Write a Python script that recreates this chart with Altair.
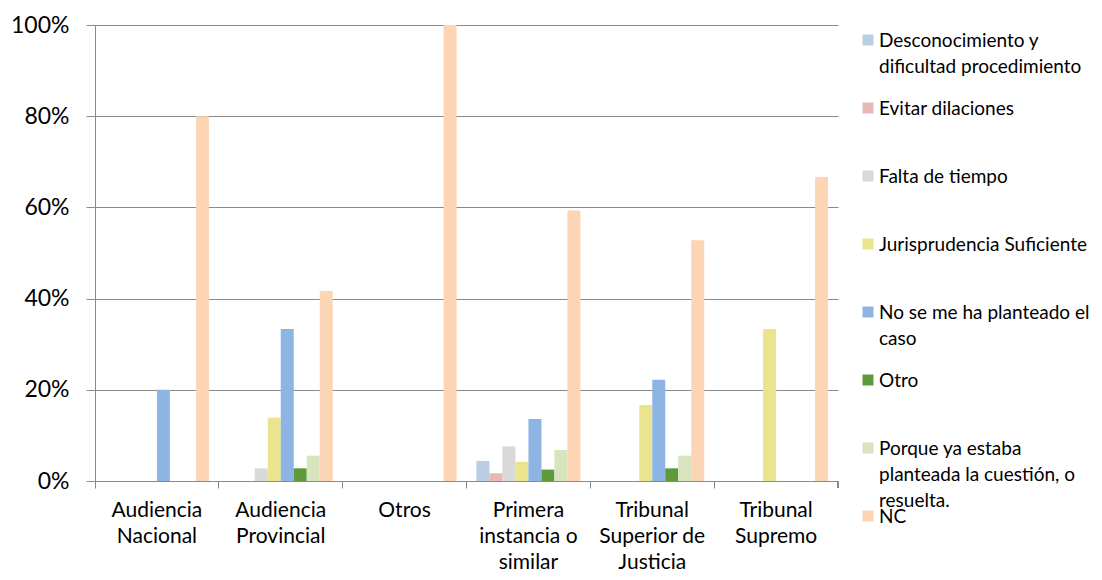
import altair as alt
import pandas as pd

categories = [
    "Audiencia\nNacional",
    "Audiencia\nProvincial",
    "Otros",
    "Primera\ninstancia o\nsimilar",
    "Tribunal\nSuperior de\nJusticia",
    "Tribunal\nSupremo",
]

series = [
    "Desconocimiento y dificultad procedimiento",
    "Evitar dilaciones",
    "Falta de tiempo",
    "Jurisprudencia Suficiente",
    "No se me ha planteado el caso",
    "Otro",
    "Porque ya estaba planteada la cuestión, o resuelta.",
    "NC",
]

legend_labels = [
    "Desconocimiento y\ndificultad procedimiento",
    "Evitar dilaciones",
    "Falta de tiempo",
    "Jurisprudencia Suficiente",
    "No se me ha planteado el\ncaso",
    "Otro",
    "Porque ya estaba\nplanteada la cuestión, o\nresuelta.",
    "NC",
]

colors = ["#B9CDE5", "#E6B9B8", "#D9D9D9", "#EBE48F", "#8EB4E3", "#5E9A3A", "#D7E4BD", "#FCD5B5"]

# percentages per category, in series order
audiencia_nacional = [0, 0, 0, 0, 20.0, 0, 0, 80.0]
audiencia_provincial = [0, 0, 2.78, 13.89, 33.33, 2.78, 5.56, 41.67]
otros = [0, 0, 0, 0, 0, 0, 0, 100.0]
primera_instancia = [4.4, 1.7, 7.6, 4.2, 13.6, 2.5, 6.8, 59.3]
tribunal_superior = [0, 0, 0, 16.67, 22.22, 2.78, 5.56, 52.78]
tribunal_supremo = [0, 0, 0, 33.33, 0, 0, 0, 66.67]

all_values = [audiencia_nacional, audiencia_provincial, otros,
              primera_instancia, tribunal_superior, tribunal_supremo]

rows = []
for cat, vals in zip(categories, all_values):
    for s, v in zip(series, vals):
        if v > 0:
            rows.append({"category": cat, "series": s, "value": v / 100.0})
df = pd.DataFrame(rows)

legend_df = pd.DataFrame({"series": series, "label": legend_labels})

FONT = "Lato"
GRAY = "#898989"

xscale = alt.Scale(domain=categories, paddingInner=0.16, paddingOuter=0.08)
color = alt.Color("series:N", scale=alt.Scale(domain=series, range=colors), legend=None)

bars = alt.Chart(df).mark_bar().encode(
    x=alt.X("category:N", sort=categories, scale=xscale,
            axis=alt.Axis(title=None, labelExpr="split(datum.label, '\\n')", labelAngle=0,
                          ticks=False, domain=True, domainColor=GRAY, labelFontSize=21,
                          labelFont=FONT, labelColor="#000000", labelPadding=29,
                          labelLineHeight=26, labelBaseline="middle", grid=False, orient="bottom")),
    xOffset=alt.XOffset("series:N", scale=alt.Scale(domain=series, paddingInner=0, paddingOuter=0)),
    y=alt.Y("value:Q", scale=alt.Scale(domain=[0, 1]),
            axis=alt.Axis(title=None, format="%", values=[0, 0.2, 0.4, 0.6, 0.8, 1.0],
                          grid=True, gridColor=GRAY, domainColor=GRAY, tickColor=GRAY,
                          tickSize=9, labelPadding=17, labelFontSize=23, labelFont=FONT,
                          labelColor="#000000")),
    color=color,
)

ticks_layer = alt.Chart(df).mark_point(opacity=0).encode(
    x=alt.X("category:N", sort=categories, scale=xscale,
            axis=alt.Axis(title=None, labels=False, bandPosition=-0.0952, ticks=True, tickSize=7,
                          tickColor=GRAY, domain=False, grid=False, orient="bottom")),
)

end_tick = alt.Chart(df).mark_rule(color=GRAY).encode(
    x=alt.value(743), y=alt.value(456), y2=alt.value(463)
)

legend_y = alt.Y("series:N", scale=alt.Scale(domain=series, range=[15, 491], padding=0), axis=None)

legend_sq = alt.Chart(legend_df).mark_square(size=121, opacity=1).encode(
    x=alt.value(773), y=legend_y, color=color
)

legend_txt = alt.Chart(legend_df).mark_text(
    align="left", baseline="top", dy=-8, lineBreak="\n", lineHeight=26,
    fontSize=19, font=FONT, color="#000000"
).encode(x=alt.value(784), y=legend_y, text="label:N")

chart = alt.layer(bars, ticks_layer, end_tick, legend_sq, legend_txt).resolve_scale(
    y="independent"
).resolve_axis(x="independent").properties(
    width=743, height=456,
    autosize=alt.AutoSizeParams(type="none"),
    padding={"left": 87, "top": 17, "right": 256, "bottom": 91},
).configure_view(stroke=None)

chart.save("out.html", embed_options={"renderer": "svg", "actions": False})
